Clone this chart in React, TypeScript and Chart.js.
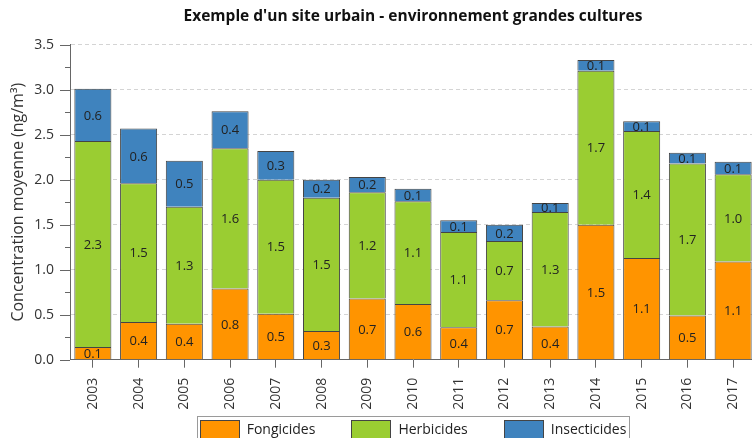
import React, { useEffect, useRef } from "react";
import { Chart, registerables } from "chart.js";

Chart.register(...registerables);

const years = ["2003","2004","2005","2006","2007","2008","2009","2010","2011","2012","2013","2014","2015","2016","2017"];
const fongicides = [0.14,0.42,0.40,0.79,0.51,0.32,0.68,0.62,0.36,0.66,0.37,1.50,1.13,0.49,1.09];
const herbicides = [2.29,1.54,1.30,1.56,1.49,1.48,1.18,1.14,1.06,0.66,1.27,1.71,1.41,1.69,0.97];
const insecticides = [0.58,0.61,0.51,0.41,0.32,0.20,0.17,0.14,0.13,0.18,0.10,0.12,0.11,0.12,0.14];
const seriesNames = ["Fongicides", "Herbicides", "Insecticides"];
const seriesColors = ["#FF9400", "#9ACD32", "#3F83BE"];
const titleText = "Exemple d'un site urbain - environnement grandes cultures";
const yTitle = "Concentration moyenne (ng/m³)";

const FONT = "'Open Sans', 'DejaVu Sans', sans-serif";

const valueLabels = {
  id: "valueLabels",
  afterDatasetsDraw(chart: any) {
    const ctx = chart.ctx;
    ctx.save();
    ctx.font = `13px ${FONT}`;
    ctx.fillStyle = "#222";
    ctx.textAlign = "center";
    ctx.textBaseline = "middle";
    chart.data.datasets.forEach((ds: any, i: number) => {
      const meta = chart.getDatasetMeta(i);
      meta.data.forEach((el: any, j: number) => {
        const v = ds.data[j];
        ctx.fillText(v.toFixed(1), el.x, (el.y + el.base) / 2 + 1);
      });
    });
    ctx.restore();
  },
};

const decorations = {
  id: "decorations",
  afterDraw(chart: any) {
    const ctx = chart.ctx;
    const y = chart.scales.y;
    const area = chart.chartArea;
    const left = area.left;
    ctx.save();
    ctx.strokeStyle = "#666";
    ctx.lineWidth = 1;
    y.ticks.forEach((t: any) => {
      const major = Math.abs(t.value * 2 - Math.round(t.value * 2)) < 1e-6;
      const len = major ? 10 : 5;
      const py = Math.round(y.getPixelForValue(t.value)) + 0.5;
      ctx.beginPath();
      ctx.moveTo(left - len, py);
      ctx.lineTo(left, py);
      ctx.stroke();
    });

    // legend (drawn below the plot, framed like the original)
    ctx.font = `14px ${FONT}`;
    ctx.textBaseline = "middle";
    ctx.textAlign = "left";
    const boxW = 40, boxH = 20, gap = 7, spacing = 36;
    const widths = seriesNames.map((n) => boxW + gap + ctx.measureText(n).width);
    const total = widths.reduce((a, b) => a + b, 0) + spacing * (widths.length - 1);
    const cx = (area.left + area.right) / 2;
    let x = cx - total / 2;
    const startX = x;
    const boxTop = 420;
    seriesNames.forEach((n, i) => {
      ctx.fillStyle = seriesColors[i];
      ctx.fillRect(Math.round(x), boxTop, boxW, boxH);
      ctx.strokeStyle = "#444";
      ctx.lineWidth = 1;
      ctx.strokeRect(Math.round(x) + 0.5, boxTop + 0.5, boxW - 1, boxH);
      ctx.fillStyle = "#222";
      ctx.fillText(n, x + boxW + gap, boxTop + 10);
      x += widths[i] + spacing;
    });
    const endX = startX + total;
    ctx.strokeStyle = "#9a9a9a";
    const l = Math.round(startX - 3) + 0.5;
    const r = Math.round(endX + 3) + 0.5;
    ctx.strokeRect(l, 416.5, r - l, 40);
    ctx.restore();
  },
};

export default function App() {
  const ref = useRef<HTMLCanvasElement>(null);
  useEffect(() => {
    const canvas = ref.current!;
    const values = [fongicides, herbicides, insecticides];
    const chart = new Chart(canvas, {
      type: "bar",
      data: {
        labels: years,
        datasets: seriesNames.map((name, i) => ({
          label: name,
          data: values[i],
          backgroundColor: seriesColors[i],
          borderColor: "#444",
          borderWidth: 1,
          barPercentage: 0.81,
          categoryPercentage: 1,
        })),
      },
      options: {
        responsive: false,
        animation: false,
        devicePixelRatio: 1,
        layout: { padding: 0 },
        plugins: {
          title: {
            display: true,
            text: titleText,
            fullSize: false,
            color: "#111",
            font: { family: FONT, size: 15.5, weight: "bold" },
            padding: { top: 7.5, bottom: 18.6 },
          },
          legend: { display: false },
          tooltip: { enabled: false },
        },
        scales: {
          x: {
            stacked: true,
            afterFit(scale: any) {
              scale.height = 90.3;
              scale.paddingLeft = 0;
              scale.paddingRight = 0;
            },
            grid: {
              display: true,
              drawOnChartArea: false,
              drawTicks: true,
              tickLength: 8,
              offset: false,
              color: "#666",
            },
            border: { display: true, color: "#666" },
            ticks: {
              minRotation: 90,
              maxRotation: 90,
              autoSkip: false,
              padding: 10,
              color: "#333",
              font: { family: FONT, size: 14 },
            },
          },
          y: {
            stacked: true,
            min: 0,
            max: 3.5,
            afterFit(scale: any) {
              scale.width = 70;
            },
            grid: {
              drawTicks: false,
              color: (c: any) => {
                const v = c.tick ? c.tick.value : 0;
                const major = Math.abs(v * 2 - Math.round(v * 2)) < 1e-6;
                return major && v > 0 ? "#d4d4d4" : "rgba(0,0,0,0)";
              },
            },
            border: { display: true, color: "#666", dash: [4, 3] },
            ticks: {
              stepSize: 0.25,
              autoSkip: false,
              padding: 16,
              color: "#333",
              font: { family: FONT, size: 14 },
              callback: (v: any) => {
                const n = Number(v);
                return Math.abs(n * 2 - Math.round(n * 2)) < 1e-6 ? n.toFixed(1) : "";
              },
            },
            title: {
              display: true,
              text: yTitle,
              color: "#333",
              font: { family: FONT, size: 16 },
              padding: { top: 9, bottom: 0 },
            },
          },
        },
      },
      plugins: [valueLabels, decorations],
    } as any);
    return () => chart.destroy();
  }, []);
  return (
    <div style={{ position: "fixed", left: 0, top: 0, width: 756, height: 450, background: "#fff" }}>
      <canvas ref={ref} width={756} height={450} style={{ display: "block" }} />
    </div>
  );
}
